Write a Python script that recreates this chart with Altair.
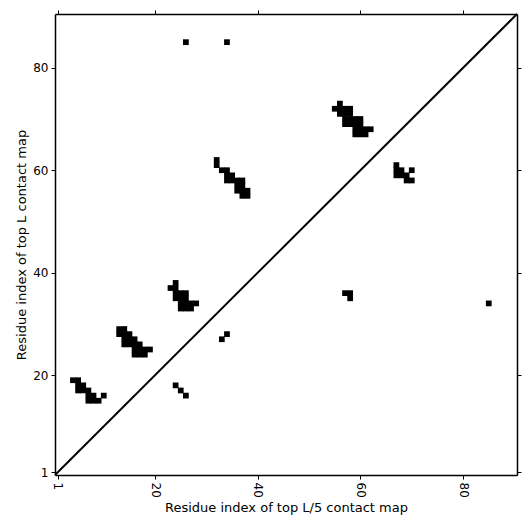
import altair as alt
import pandas as pd

# Contact cells (residue i on x, residue j on y)
res_x = [4, 5, 5, 6, 5, 6, 7, 7, 8, 7, 8, 9, 10,
         13, 14, 13, 14, 15, 14, 15, 16, 14, 15, 16, 17, 16, 17, 18, 19, 16, 17, 18,
         24, 25, 26,
         33, 34,
         24, 23, 24, 24, 25, 26, 24, 25, 26, 25, 26, 27, 28, 25, 26, 27,
         32, 32, 33, 34, 34, 35, 34, 35, 36, 37, 36, 37, 36, 37, 38, 37, 38,
         56, 55, 56, 57, 58, 56, 57, 58, 57, 58, 59, 60, 57, 58, 59, 60, 59, 60, 61, 62, 59, 60, 61,
         67, 67, 68, 70, 67, 68, 69, 69, 70,
         57, 58, 58,
         85,
         26, 34]
res_y = [19, 19, 18, 18, 17, 17, 17, 16, 16, 15, 15, 15, 16,
         29, 29, 28, 28, 28, 27, 27, 27, 26, 26, 26, 26, 25, 25, 25, 25, 24, 24, 24,
         18, 17, 16,
         27, 28,
         38, 37, 37, 36, 36, 36, 35, 35, 35, 34, 34, 34, 34, 33, 33, 33,
         62, 61, 60, 60, 59, 59, 58, 58, 58, 58, 57, 57, 56, 56, 56, 55, 55,
         73, 72, 72, 72, 72, 71, 71, 71, 70, 70, 70, 70, 69, 69, 69, 69, 68, 68, 68, 68, 67, 67, 67,
         61, 60, 60, 60, 59, 59, 59, 58, 58,
         36, 36, 35,
         34,
         85, 85]

diag_x = [0.5, 90.5]
diag_y = [0.5, 90.5]
tick_values = [1, 20, 40, 60, 80]
axis_domain = [0.5, 90.5]

cells = pd.DataFrame({"i": res_x, "j": res_y})
diag = pd.DataFrame({"x": diag_x, "y": diag_y})

xscale = alt.Scale(domain=axis_domain, nice=False, zero=False)
yscale = alt.Scale(domain=axis_domain, nice=False, zero=False)

common = dict(values=tick_values, grid=False, domainColor="black", domainWidth=1.5,
              tickColor="black", tickSize=4, tickWidth=1)

rects = alt.Chart(cells).transform_calculate(
    x0="datum.i - 0.56", x1="datum.i + 0.56", y0="datum.j - 0.56", y1="datum.j + 0.56"
).mark_rect(color="black").encode(
    x=alt.X("x0:Q", scale=xscale,
            axis=alt.Axis(orient="bottom", title="Residue index of top L/5 contact map",
                          labelAngle=90, labelAlign="left", labelBaseline="middle",
                          labelPadding=3, titlePadding=4, **common)),
    x2="x1:Q",
    y=alt.Y("y0:Q", scale=yscale,
            axis=alt.Axis(orient="left", title="Residue index of top L contact map",
                          labelPadding=3, **common)),
    y2="y1:Q",
)

line = alt.Chart(diag).mark_line(color="black", strokeWidth=2).encode(
    x=alt.X("x:Q", scale=xscale, axis=alt.Axis(orient="top", labels=False, title=None, **common)),
    y=alt.Y("y:Q", scale=yscale, axis=alt.Axis(orient="right", labels=False, title=None, **common)),
)

chart = alt.layer(rects, line).resolve_axis(x="independent", y="independent").properties(
    width=462, height=461,
    autosize=alt.AutoSizeParams(type="none"),
    padding={"left": 47, "top": 6, "right": 5, "bottom": 46},
).configure_view(stroke=None).configure_axis(
    labelFont="DejaVu Sans", labelFontSize=12, labelColor="black",
    titleFont="DejaVu Sans", titleFontSize=13, titleFontWeight="normal", titleColor="black",
)

chart.save("out.html", embed_options={"renderer": "svg", "actions": False})
